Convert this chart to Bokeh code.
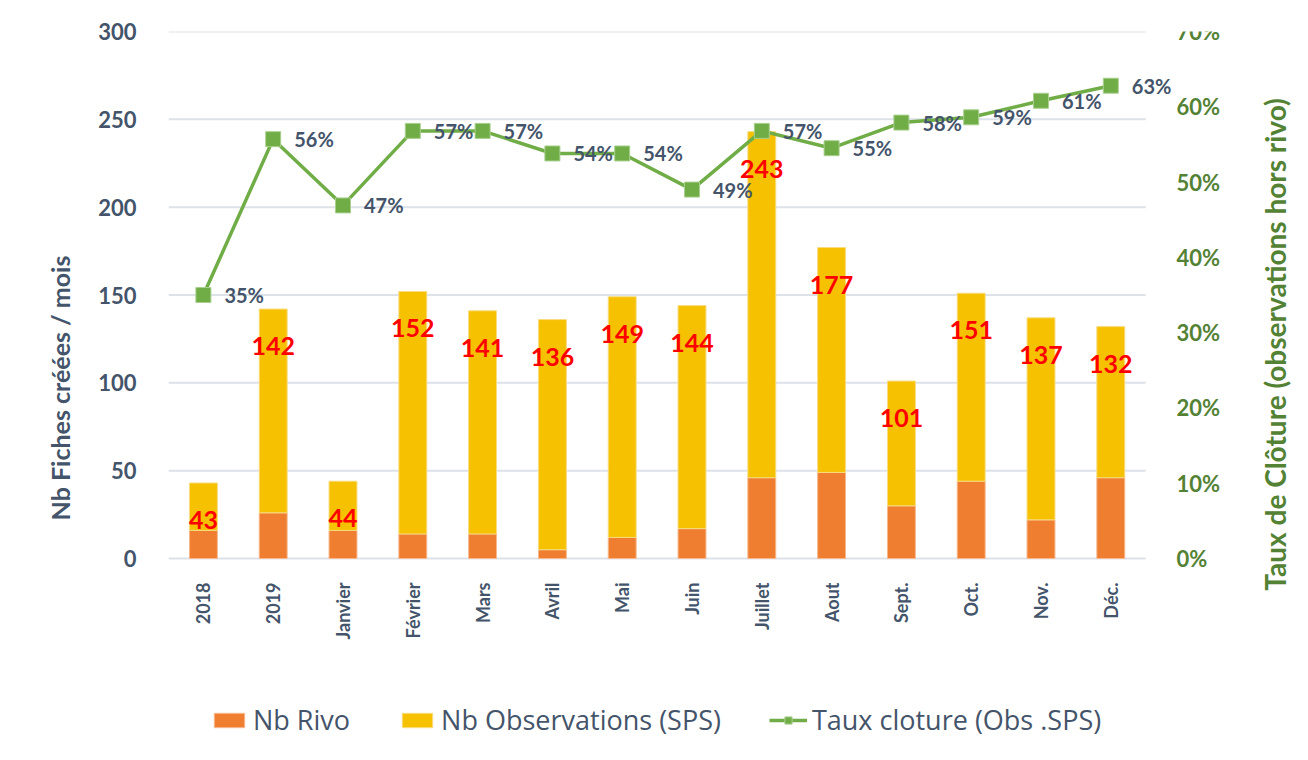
from bokeh.plotting import figure
from bokeh.models import (ColumnDataSource, Range1d, LinearAxis, FixedTicker,
                          NumeralTickFormatter, Legend, LegendItem, LabelSet, Label)
from bokeh.core.properties import value
from bokeh.embed import file_html
from bokeh.resources import INLINE
import math

categories = ["2018", "2019", "Janvier", "Février", "Mars", "Avril", "Mai", "Juin",
              "Juillet", "Aout", "Sept.", "Oct.", "Nov.", "Déc."]
totals = [43, 142, 44, 152, 141, 136, 149, 144, 243, 177, 101, 151, 137, 132]
rivo = [16, 26, 16, 14, 14, 5, 12, 17, 46, 49, 30, 44, 22, 46]
observations = [t - r for t, r in zip(totals, rivo)]
taux = [0.35, 0.557, 0.469, 0.568, 0.568, 0.538, 0.538, 0.49, 0.568, 0.545,
        0.579, 0.586, 0.608, 0.628]
taux_labels = [f"{round(t * 100):.0f}%" for t in taux]
left_ticks = [0, 50, 100, 150, 200, 250, 300]
right_ticks = [0, 0.1, 0.2, 0.3, 0.4, 0.5, 0.6, 0.7]
right_title = "Taux de Clôture (observations hors rivo)"
left_title = "Nb Fiches créées / mois"

FONT = "Lato"
LEG_FONT = "Open Sans"
SLATE = "#44546A"
GREEN = "#70AD47"
DKGREEN = "#548235"
ORANGE = "#EF7E30"
YELLOW = "#F5C100"

xs = list(range(len(categories)))
n = len(categories)

src = ColumnDataSource(dict(x=xs, cat=categories, rivo=rivo, obs=observations,
                            total=totals, tlab=[str(t) for t in totals],
                            taux=taux, tauxlab=taux_labels))

# geometry of the frame (pixels)
W, H = 1292, 744
F_LEFT, F_TOP = 168, 31
AXIS_R_PX = 1168                   # pixel column of the right value axis
ZERO_PX = 558                      # pixel row of value 0
px_per_unit = (ZERO_PX - F_TOP) / left_ticks[-1]
y_low = -(H - ZERO_PX) / px_per_unit
pct_low = -(H - ZERO_PX) * right_ticks[-1] / (ZERO_PX - F_TOP)
cat_px = 69.8


def x_at(px):
    return -0.5 + (px - F_LEFT) / cat_px


p = figure(x_range=Range1d(-0.5, x_at(W)), y_range=Range1d(y_low, left_ticks[-1]),
           width=W, height=H, output_backend="svg", toolbar_location=None,
           min_border_left=F_LEFT, min_border_right=0, min_border_top=F_TOP,
           min_border_bottom=0)
p.extra_y_ranges = {"pct": Range1d(pct_low, right_ticks[-1])}

# gridlines spanning the categories only
p.segment(x0=[-0.5] * len(left_ticks), x1=[n - 0.5] * len(left_ticks),
          y0=left_ticks, y1=left_ticks, line_color="#DDE2E8", line_width=2)

bars = p.vbar_stack(["rivo", "obs"], x="x", width=0.4, source=src,
                    color=[ORANGE, YELLOW], line_color=["#F6B98E", "#F8DC80"], line_width=1)

p.text(x="x", y="total", text="tlab", source=src, y_offset=37,
       text_align="center", text_baseline="middle", text_color="#FF0000",
       text_font=value(FONT), text_font_style="bold", text_font_size="25px")

ln = p.line(x="x", y="taux", source=src, y_range_name="pct",
            line_color=GREEN, line_width=3.5)
mk = p.scatter(x="x", y="taux", source=src, y_range_name="pct", marker="square",
               size=15, fill_color=GREEN, line_color="#A9D08E", line_width=1)
pl = LabelSet(x="x", y="taux", text="tauxlab", source=src, y_range_name="pct",
              x_offset=21, text_align="left", text_baseline="middle", text_color=SLATE,
              text_font=value(FONT), text_font_style="bold", text_font_size="20px")
p.add_layout(pl)

# x axis drawn at value 0
p.xaxis.fixed_location = 0
p.xaxis.ticker = FixedTicker(ticks=xs)
p.xaxis.major_label_overrides = {i: c for i, c in zip(xs, categories)}
p.xaxis.major_label_orientation = math.pi / 2
p.xaxis.major_label_text_font = FONT
p.xaxis.major_label_text_font_style = "bold"
p.xaxis.major_label_text_font_size = "18px"
p.xaxis.major_label_text_color = SLATE
p.xaxis.major_label_standoff = 18
p.xaxis.axis_line_color = None
p.xaxis.major_tick_line_color = None
p.xaxis.minor_tick_line_color = None

p.yaxis.ticker = FixedTicker(ticks=left_ticks)
p.yaxis.major_label_text_font = FONT
p.yaxis.major_label_text_font_style = "bold"
p.yaxis.major_label_text_font_size = "22px"
p.yaxis.major_label_text_color = SLATE
p.yaxis.major_label_standoff = 26
p.yaxis.axis_line_color = None
p.yaxis.major_tick_line_color = None
p.yaxis.minor_tick_line_color = None
p.yaxis.axis_label = left_title
p.yaxis.axis_label_text_font = FONT
p.yaxis.axis_label_text_font_style = "bold"
p.yaxis.axis_label_text_font_size = "25px"
p.yaxis.axis_label_text_color = SLATE
p.yaxis.axis_label_standoff = 20

# right percentage axis, drawn inside the canvas just right of the categories
raxis = LinearAxis(y_range_name="pct", ticker=FixedTicker(ticks=right_ticks),
                   formatter=NumeralTickFormatter(format="0%"))
raxis.fixed_location = x_at(AXIS_R_PX)
raxis.major_label_text_font = FONT
raxis.major_label_text_font_style = "bold"
raxis.major_label_text_font_size = "22px"
raxis.major_label_text_color = DKGREEN
raxis.major_label_standoff = 2
raxis.axis_line_color = None
raxis.major_tick_line_color = None
raxis.minor_tick_line_color = None
p.add_layout(raxis, "right")

# right axis title, reading bottom to top
p.add_layout(Label(x=x_at(1274), y=(ZERO_PX - 344) * right_ticks[-1] / (ZERO_PX - F_TOP),
                   y_range_name="pct", text=right_title, angle=math.pi / 2,
                   text_align="center", text_baseline="middle", text_color=DKGREEN,
                   text_font=FONT, text_font_style="bold", text_font_size="28px"))

p.xgrid.grid_line_color = None
p.ygrid.grid_line_color = None
p.outline_line_color = None

legend = Legend(items=[
    LegendItem(label="Nb Rivo", renderers=[bars[0]]),
    LegendItem(label="Nb Observations (SPS)", renderers=[bars[1]]),
    LegendItem(label="Taux cloture (Obs .SPS)", renderers=[ln, mk]),
], orientation="horizontal", location=(42, 6))
legend.label_text_font = LEG_FONT
legend.label_text_font_size = "27px"
legend.label_text_color = SLATE
legend.border_line_color = None
legend.background_fill_alpha = 0
legend.spacing = 48
legend.glyph_width = 38
legend.glyph_height = 18
legend.label_standoff = 5
legend.margin = 0
legend.padding = 0
p.add_layout(legend, "center")

open("out.html", "w").write(file_html(p, INLINE))
